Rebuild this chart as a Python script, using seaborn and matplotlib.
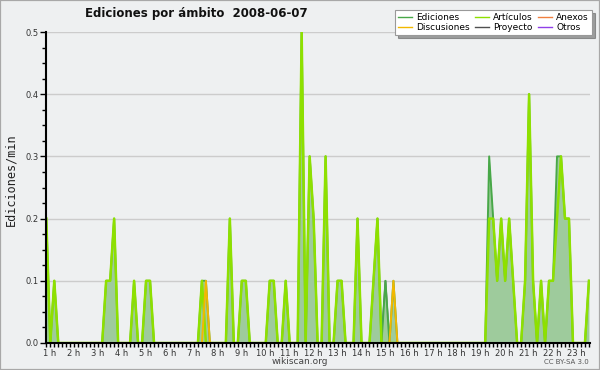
import matplotlib
matplotlib.use("Agg")
import matplotlib.pyplot as plt
import matplotlib.transforms as mtransforms
from matplotlib.patches import Rectangle
from matplotlib.lines import Line2D
from matplotlib.ticker import MultipleLocator, FixedLocator, FuncFormatter
import numpy as np
import pandas as pd
import seaborn as sns

# ---- data: edits per minute, 10-minute slots starting at 1 h ----
ediciones = [
    0.2, 0.0, 0.1, 0.0, 0.0, 0.0,   # 1 h
    0.0, 0.0, 0.0, 0.0, 0.0, 0.0,   # 2 h
    0.0, 0.0, 0.0, 0.1, 0.1, 0.2,   # 3 h
    0.0, 0.0, 0.0, 0.0, 0.1, 0.0,   # 4 h
    0.0, 0.1, 0.1, 0.0, 0.0, 0.0,   # 5 h
    0.0, 0.0, 0.0, 0.0, 0.0, 0.0,   # 6 h
    0.0, 0.0, 0.0, 0.1, 0.1, 0.0,   # 7 h
    0.0, 0.0, 0.0, 0.0, 0.2, 0.0,   # 8 h
    0.0, 0.1, 0.1, 0.0, 0.0, 0.0,   # 9 h
    0.0, 0.0, 0.1, 0.1, 0.0, 0.0,   # 10 h
    0.1, 0.0, 0.0, 0.0, 0.5, 0.0,   # 11 h
    0.3, 0.2, 0.0, 0.0, 0.3, 0.0,   # 12 h
    0.0, 0.1, 0.1, 0.0, 0.0, 0.0,   # 13 h
    0.2, 0.0, 0.0, 0.0, 0.1, 0.2,   # 14 h
    0.0, 0.1, 0.0, 0.1, 0.0, 0.0,   # 15 h
    0.0, 0.0, 0.0, 0.0, 0.0, 0.0,   # 16 h
    0.0, 0.0, 0.0, 0.0, 0.0, 0.0,   # 17 h
    0.0, 0.0, 0.0, 0.0, 0.0, 0.0,   # 18 h
    0.0, 0.0, 0.0, 0.3, 0.2, 0.1,   # 19 h
    0.2, 0.1, 0.2, 0.1, 0.0, 0.0,   # 20 h
    0.1, 0.4, 0.1, 0.0, 0.1, 0.0,   # 21 h
    0.1, 0.1, 0.3, 0.3, 0.2, 0.2,   # 22 h
    0.0, 0.0, 0.0, 0.0, 0.1,        # 23 h
]
# non-article namespaces (slot index, value)
discusiones_slots = [40, 87]
discusiones_vals = [0.1, 0.1]
proyecto_slots = [85, 111, 128]
proyecto_vals = [0.1, 0.1, 0.1]
anexos_slots = []
anexos_vals = []
otros_slots = []
otros_vals = []

hour_ticks = list(range(1, 24))
hour_labels = [f"{h} h" for h in hour_ticks]
y_ticks = [0.0, 0.1, 0.2, 0.3, 0.4, 0.5]

colors = {
    "Ediciones": "#48a848",
    "Artículos": "#8ee000",
    "Anexos": "#f08040",
    "Discusiones": "#f2b800",
    "Proyecto": "#505050",
    "Otros": "#9040e8",
}

n = len(ediciones)
slot = np.arange(n)
horas = 1 + slot / 6.0

def sparse(slots, vals):
    arr = np.zeros(n)
    for s, v in zip(slots, vals):
        arr[s] = v
    return arr

disc = sparse(discusiones_slots, discusiones_vals)
proy = sparse(proyecto_slots, proyecto_vals)
anex = sparse(anexos_slots, anexos_vals)
otro = sparse(otros_slots, otros_vals)
total = np.array(ediciones)
art = np.round(total - disc - proy - anex - otro, 3)

df = pd.DataFrame({
    "hora": horas,
    "Ediciones": total,
    "Artículos": art,
    "Discusiones": disc,
    "Proyecto": proy,
    "Anexos": anex,
    "Otros": otro,
})

# ---- figure ----
BG = "#eef0f1"
fig = plt.figure(figsize=(6, 3.7), dpi=100)
fig.patch.set_facecolor(BG)
fig.add_artist(Rectangle((0, 0), 1, 1, transform=fig.transFigure, fill=False,
                         edgecolor="#a8a8a8", lw=1.6))

ax = fig.add_axes([46 / 600, 1 - 343 / 370, 544 / 600, 311 / 370])
ax.set_facecolor(BG)

# minor namespaces drawn beneath the total area
for name in ["Proyecto", "Anexos", "Otros"]:
    sns.lineplot(data=df, x="hora", y=name, ax=ax, color=colors[name], lw=1.2,
                 estimator=None, zorder=1.4)
ax.fill_between(df["hora"], 0, df["Ediciones"], color="#9ecb9c", lw=0, zorder=1.8)
for name, lw in [("Ediciones", 1.4), ("Artículos", 1.8), ("Discusiones", 1.4)]:
    sns.lineplot(data=df, x="hora", y=name, ax=ax, color=colors[name], lw=lw,
                 estimator=None, zorder=2.2)

ax.set_xlim(0.9875, 23.711)
ax.set_ylim(0, 0.5)
ax.set_xlabel("")
ax.set_ylabel("")

ax.yaxis.set_major_locator(FixedLocator(y_ticks))
ax.yaxis.set_minor_locator(MultipleLocator(0.025))
ax.yaxis.set_major_formatter(FuncFormatter(lambda v, p: f"{v:.1f}"))
ax.grid(axis="y", which="major", color="#cccccc", lw=1, zorder=0.5)
ax.grid(axis="x", visible=False)
ax.set_axisbelow(True)

ax.xaxis.set_major_locator(FixedLocator(hour_ticks))
ax.set_xticklabels(hour_labels)
ax.xaxis.set_minor_locator(MultipleLocator(1 / 6))

ax.tick_params(axis="both", which="both", direction="out", length=4, width=1,
               color="black")
ax.tick_params(axis="x", which="both", length=3, pad=1, labelsize=6,
               labelcolor="#333333")
ax.tick_params(axis="y", which="major", pad=1, labelsize=6, labelcolor="#333333")
ax.tick_params(axis="y", which="minor", length=3)

offset = mtransforms.ScaledTranslation(3.5 / 100, 0, fig.dpi_scale_trans)
for lab in ax.get_xticklabels():
    lab.set_transform(lab.get_transform() + offset)

for s in ["top", "right"]:
    ax.spines[s].set_visible(False)
for s in ["left", "bottom"]:
    ax.spines[s].set_color("black")
    ax.spines[s].set_linewidth(1.5)
    ax.spines[s].set_zorder(3)

fig.text(85 / 600, 1 - 14 / 370, "Ediciones por ámbito  2008-06-07",
         fontsize=8.5, fontweight="bold", ha="left", va="center", color="#111111")
fig.text(11 / 600, 1 - 180 / 370, "Ediciones/min", rotation=90, fontsize=8.5,
         family="DejaVu Sans Mono", ha="center", va="center", color="#222222")
fig.text(300 / 600, 1 - 361 / 370, "wikiscan.org", fontsize=6.5,
         ha="center", va="center", color="#444444")
fig.text(589 / 600, 1 - 362 / 370, "CC BY-SA 3.0", fontsize=5,
         ha="right", va="center", color="#555555")

order = ["Ediciones", "Discusiones", "Artículos", "Proyecto", "Anexos", "Otros"]
handles = [Line2D([], [], color=colors[nm], lw=1) for nm in order]
leg = fig.legend(handles, order, loc="upper right",
                 bbox_to_anchor=(592 / 600, 1 - 10 / 370), ncol=3, fontsize=6.5,
                 frameon=True, fancybox=False, shadow=True, borderpad=0.35,
                 labelspacing=0.1, handlelength=1.5, handletextpad=0.5,
                 columnspacing=0.6, borderaxespad=0)
leg.get_frame().set_edgecolor("#999999")
leg.get_frame().set_facecolor("white")
leg.get_frame().set_linewidth(0.8)

fig.savefig("out.png", dpi=100, facecolor=BG)
